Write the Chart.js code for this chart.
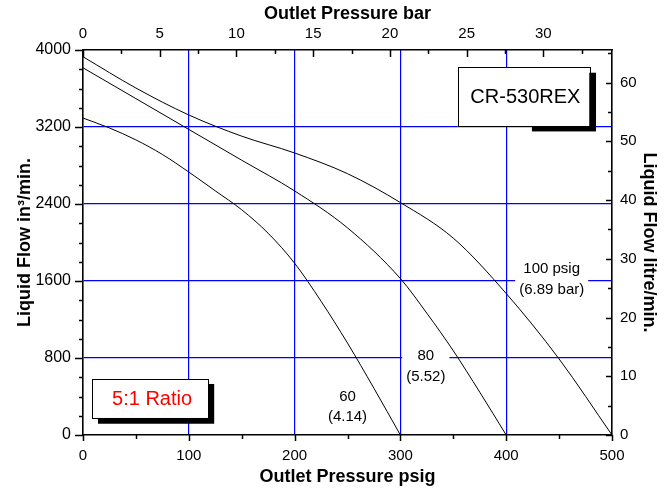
<!DOCTYPE html>
<html>
<head>
<meta charset="utf-8">
<script src="https://cdn.jsdelivr.net/npm/chart.js@4.4.1/dist/chart.umd.min.js"></script>
<style>
  html, body { margin: 0; padding: 0; background: #fff; }
  #wrap { width: 670px; height: 490px; }
</style>
</head>
<body>
<div id="wrap"><canvas id="myChart"></canvas></div>
<script>
// outlet pressure (psig) vs liquid flow (in3/min), one curve per air inlet pressure
const psi60 = [0, 25, 50, 75, 100, 125, 150, 175, 200, 225, 250, 275, 300];
const flow60 = [3293, 3190, 3066, 2915, 2732, 2537, 2340, 2096, 1785, 1390, 955, 485, 0];
const psi80 = [0, 50, 100, 150, 200, 250, 300, 325, 350, 375, 400];
const flow80 = [3815, 3495, 3175, 2855, 2536, 2152, 1625, 1265, 875, 445, 0];
const psi100 = [0, 50, 100, 150, 200, 250, 300, 350, 400, 450, 500];
const flow100 = [3930, 3605, 3325, 3105, 2930, 2715, 2415, 2045, 1470, 790, 0];

// tick labels
const psigTicks = [0, 100, 200, 300, 400, 500];
const barTicks = [0, 5, 10, 15, 20, 25, 30];
const flowTicks = [0, 800, 1600, 2400, 3200, 4000];
const litreTicks = [0, 10, 20, 30, 40, 50, 60];

const curveNames = [['60', '(4.14)'], ['80', '(5.52)'], ['100 psig', '(6.89 bar)']];

const PSI_TO_BAR = 1 / 14.5038;
const IN3_TO_L = 0.0163871;

const FONT = "'Liberation Sans', Arial, Helvetica, sans-serif";
Chart.defaults.font.family = FONT;
Chart.defaults.color = '#000';

const pts = (xs, ys) => xs.map((x, i) => ({x: x, y: ys[i]}));
const setTicks = arr => scale => { scale.ticks = arr.map(v => ({value: v})); };
const plain = v => String(v);

// where the curve names and the two boxes sit, in data units
const nameSpots = [{x: 250, y: 295}, {x: 324, y: 717}, {x: 443, y: 1621}];
const boxes = [
  {text: 'CR-530REX', color: '#000', x1: 354, x2: 478.5, y1: 3819, y2: 3206,
   sx1: 424.3, sx2: 484.9, sy1: 3764, sy2: 3154},
  {text: '5:1 Ratio', color: '#ff0000', x1: 8.5, x2: 118.3, y1: 582, y2: 177,
   sx1: 14.2, sx2: 124, sy1: 530, sy2: 117}
];

const notes = {
  id: 'notes',
  afterDatasetsDraw(chart) {
    const {ctx, scales: {x, y}} = chart;
    ctx.save();
    // boxes with drop shadow
    boxes.forEach(b => {
      ctx.fillStyle = '#000';
      const sx1 = x.getPixelForValue(b.sx1), sx2 = x.getPixelForValue(b.sx2);
      const sy1 = y.getPixelForValue(b.sy1), sy2 = y.getPixelForValue(b.sy2);
      ctx.fillRect(sx1, sy1, sx2 - sx1, sy2 - sy1);
      const x1 = x.getPixelForValue(b.x1), x2 = x.getPixelForValue(b.x2);
      const y1 = y.getPixelForValue(b.y1), y2 = y.getPixelForValue(b.y2);
      ctx.fillStyle = '#fff';
      ctx.fillRect(x1, y1, x2 - x1, y2 - y1);
      ctx.strokeStyle = '#000';
      ctx.lineWidth = 1;
      ctx.strokeRect(Math.round(x1) + 0.5, Math.round(y1) + 0.5, Math.round(x2 - x1), Math.round(y2 - y1));
      ctx.fillStyle = b.color;
      ctx.font = '20px ' + FONT;
      ctx.textAlign = 'center';
      ctx.textBaseline = 'middle';
      ctx.fillText(b.text, (x1 + x2) / 2 + 2, (y1 + y2) / 2 + 1);
    });
    // curve names on a white ground
    ctx.font = '15px ' + FONT;
    curveNames.forEach((lines, i) => {
      const px = x.getPixelForValue(nameSpots[i].x);
      const py = y.getPixelForValue(nameSpots[i].y);
      const w = Math.max(...lines.map(t => ctx.measureText(t).width)) + 8;
      ctx.fillStyle = '#fff';
      ctx.fillRect(px - w / 2, py - 20, w, 40);
      ctx.fillStyle = '#000';
      ctx.textAlign = 'center';
      ctx.textBaseline = 'middle';
      ctx.fillText(lines[0], px, py - 10);
      ctx.fillText(lines[1], px, py + 10.5);
    });
    ctx.restore();
  }
};

const tickMarks = {
  id: 'tickMarks',
  afterDraw(chart) {
    const {ctx, chartArea: a, scales} = chart;
    ctx.save();
    ctx.strokeStyle = '#000';
    ctx.lineWidth = 1.5;
    const hor = (scale, vals, edge, len) => vals.forEach(v => {
      const p = Math.round(scale.getPixelForValue(v)) + 0.5;
      ctx.beginPath(); ctx.moveTo(p, edge); ctx.lineTo(p, edge + len); ctx.stroke();
    });
    const ver = (scale, vals, edge, len) => vals.forEach(v => {
      const p = Math.round(scale.getPixelForValue(v)) + 0.5;
      ctx.beginPath(); ctx.moveTo(edge, p); ctx.lineTo(edge + len, p); ctx.stroke();
    });
    const halves = arr => arr.slice(0, -1).map((v, i) => (v + arr[i + 1]) / 2);
    const quarters = [];
    for (let i = 0; i < flowTicks.length - 1; i++) {
      const step = (flowTicks[i + 1] - flowTicks[i]) / 4;
      quarters.push(flowTicks[i] + step, flowTicks[i] + 2 * step, flowTicks[i] + 3 * step);
    }
    // bottom: outward
    hor(scales.x, psigTicks, a.bottom, 6);
    hor(scales.x, halves(psigTicks), a.bottom, 4);
    // top: inward
    hor(scales.x2, barTicks, a.top, 7);
    hor(scales.x2, halves(barTicks.concat([35])).filter(v => v < scales.x2.max), a.top, 4);
    // left: outward
    ver(scales.y, flowTicks, a.left, -8);
    ver(scales.y, quarters, a.left, -4);
    // right: inward
    ver(scales.y2, litreTicks, a.right, -6);
    ver(scales.y2, halves(litreTicks.concat([70])).filter(v => v < scales.y2.max), a.right, -4);
    ctx.restore();
  }
};

const gridBlue = ctx => (ctx.tick && ctx.index > 0 && ctx.index < ctx.scale.ticks.length - 1) ? '#0000ff' : 'rgba(0,0,0,0)';
const border = {display: true, color: '#000', width: 1.6};
const tickFont = {size: 15};
const titleFont = {size: 18, weight: 'bold'};

const lineStyle = {borderColor: '#000', borderWidth: 1, pointRadius: 0, cubicInterpolationMode: 'monotone', fill: false};

new Chart(document.getElementById('myChart').getContext('2d'), {
  type: 'line',
  data: {
    datasets: [
      Object.assign({label: '60', data: pts(psi60, flow60)}, lineStyle),
      Object.assign({label: '80', data: pts(psi80, flow80)}, lineStyle),
      Object.assign({label: '100', data: pts(psi100, flow100)}, lineStyle)
    ]
  },
  options: {
    responsive: true,
    maintainAspectRatio: false,
    animation: false,
    layout: {padding: 0},
    plugins: {legend: {display: false}, tooltip: {enabled: false}},
    scales: {
      x: {
        type: 'linear', position: 'bottom', min: 0, max: 500,
        afterBuildTicks: setTicks(psigTicks),
        afterFit: s => { s.height = 55; },
        ticks: {font: tickFont, padding: 12, maxRotation: 0, autoSkip: false, callback: plain},
        grid: {color: gridBlue, lineWidth: 1.2, drawTicks: false},
        border: border,
        title: {display: true, text: 'Outlet Pressure psig', font: titleFont, padding: {top: 0, bottom: 2}}
      },
      x2: {
        type: 'linear', position: 'top', min: 0, max: 500 * PSI_TO_BAR,
        afterBuildTicks: setTicks(barTicks),
        afterFit: s => { s.height = 50; },
        ticks: {font: tickFont, padding: 7, maxRotation: 0, autoSkip: false, includeBounds: false, callback: plain},
        grid: {drawOnChartArea: false, drawTicks: false},
        border: border,
        title: {display: true, text: 'Outlet Pressure bar', font: titleFont, padding: {top: 3, bottom: 0}}
      },
      y: {
        type: 'linear', position: 'left', min: 0, max: 4000,
        afterBuildTicks: setTicks(flowTicks),
        afterFit: s => { s.width = 83; },
        ticks: {font: {size: 16}, padding: 12, autoSkip: false, callback: plain},
        grid: {color: gridBlue, lineWidth: 1.2, drawTicks: false},
        border: border,
        title: {display: true, text: 'Liquid Flow in\u00b3/min.', font: titleFont, padding: {top: 14, bottom: 0}}
      },
      y2: {
        type: 'linear', position: 'right', min: 0, max: 4000 * IN3_TO_L,
        afterBuildTicks: setTicks(litreTicks),
        afterFit: s => { s.width = 58; },
        ticks: {font: tickFont, padding: 8, autoSkip: false, includeBounds: false, callback: plain},
        grid: {drawOnChartArea: false, drawTicks: false},
        border: border,
        title: {display: true, text: 'Liquid Flow litre/min.', font: titleFont, padding: {top: 10, bottom: 0}}
      }
    }
  },
  plugins: [notes, tickMarks]
});
</script>
</body>
</html>
